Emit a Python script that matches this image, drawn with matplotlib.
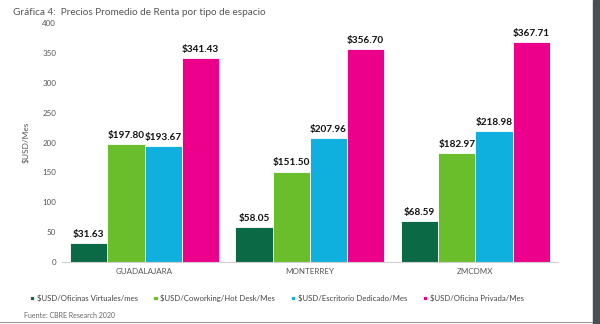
import matplotlib
matplotlib.use("Agg")
import matplotlib.pyplot as plt
import numpy as np

plt.rcParams['font.family'] = ['Lato', 'DejaVu Sans']

cities = ["GUADALAJARA", "MONTERREY", "ZMCDMX"]
series_names = [
    "$USD/Oficinas Virtuales/mes",
    "$USD/Coworking/Hot Desk/Mes",
    "$USD/Escritorio Dedicado/Mes",
    "$USD/Oficina Privada/Mes",
]
virtuales = [31.63, 58.05, 68.59]
coworking = [197.80, 151.50, 182.97]
escritorio = [193.67, 207.96, 218.98]
privada = [341.43, 356.70, 367.71]
colors = ["#0b6a45", "#6abd2b", "#10b0de", "#ec008b"]

series = [virtuales, coworking, escritorio, privada]

fig = plt.figure(figsize=(6, 3.24), dpi=100)
ax = fig.add_axes([0.103, 0.191, 0.827, 0.738])

x = np.arange(len(cities))
w = 0.225
for i, (vals, c, name) in enumerate(zip(series, colors, series_names)):
    pos = x + (i - 1.5) * w
    ax.bar(pos, vals, width=w, color=c, edgecolor="white", linewidth=0.6,
           label=name, zorder=2)
    for p, v in zip(pos, vals):
        ax.text(p, v + 7, f"${v:.2f}", ha="center", va="bottom",
                fontsize=7.2, color="#111111", fontweight="bold")

ax.set_xlim(-0.5, 2.5)
ax.set_ylim(0, 400)
ax.set_yticks(np.arange(0, 401, 50))
ax.set_xticks(x)
ax.set_xticklabels(cities)
ax.tick_params(axis="both", length=0, labelsize=5.8, colors="#555555", pad=4)
for s in ["top", "right", "left"]:
    ax.spines[s].set_visible(False)
ax.spines["bottom"].set_color("#d0d0d0")
ax.spines["bottom"].set_linewidth(0.8)
ax.set_ylabel("$USD/Mes", fontsize=6, color="#555555", labelpad=9)

fig.text(0.022, 0.975, "Gráfica 4:  Precios Promedio de Renta por tipo de espacio",
         fontsize=7.2, color="#555555", va="top", ha="left")

leg = fig.legend(loc="center left", bbox_to_anchor=(0.043, 0.08), ncol=4,
                 frameon=False, fontsize=5.6, handlelength=0.55, handleheight=0.55,
                 handletextpad=0.35, columnspacing=2.0, borderpad=0)
for t in leg.get_texts():
    t.set_color("#444444")

fig.text(0.04, 0.025, "Fuente: CBRE Research 2020", fontsize=5.0,
         color="#666666", va="center", ha="left")

# dark frame edge on the right and thin line at the bottom
fig.patches.append(plt.Rectangle((0.988, 0), 0.012, 1, transform=fig.transFigure,
                                 color="#4b4e52", zorder=10))
fig.lines.append(plt.Line2D([0, 0.988], [0.006, 0.006], transform=fig.transFigure,
                            color="#9a9a9a", linewidth=0.8))

fig.savefig("out.png", dpi=100)
